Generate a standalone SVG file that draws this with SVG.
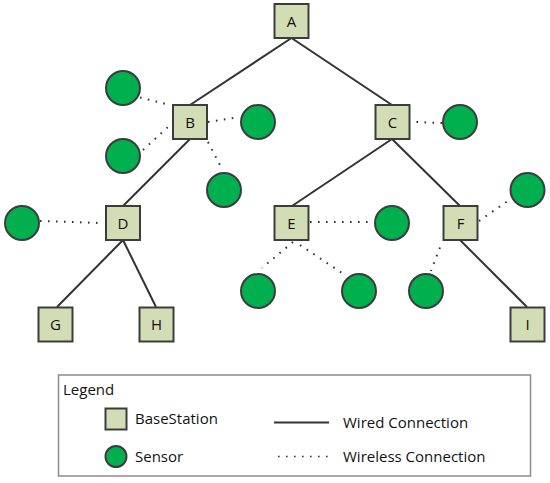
<svg xmlns="http://www.w3.org/2000/svg" width="550" height="483" viewBox="0 0 550 483">
<style>
.bs{fill:#d3ddb5;stroke:#3c3c3c;stroke-width:2}
.sn{fill:#00b04f;stroke:#3c3c3c;stroke-width:2}
.w{stroke:#333;stroke-width:2;fill:none}
.d{stroke:#333;stroke-width:2;fill:none;stroke-dasharray:1.6 6.4}
.t{font-family:"Open Sans","Liberation Sans",sans-serif;font-size:15px;fill:#111;text-anchor:middle}
.l{font-family:"Open Sans","Liberation Sans",sans-serif;font-size:15px;fill:#111}
</style>
<rect width="550" height="483" fill="#fff"/>
<g id="connectors">
<line class="w" x1="291.5" y1="38" x2="190" y2="105"/>
<line class="w" x1="291.5" y1="38" x2="392" y2="105"/>
<line class="w" x1="190" y1="139" x2="123" y2="206"/>
<line class="w" x1="392" y1="139" x2="292" y2="206"/>
<line class="w" x1="392" y1="139" x2="460" y2="206"/>
<line class="w" x1="123" y1="240" x2="57" y2="307"/>
<line class="w" x1="123" y1="240" x2="156" y2="307"/>
<line class="w" x1="460" y1="240" x2="527" y2="307"/>
<line class="d" x1="140" y1="97.5" x2="168" y2="104.5"/>
<line class="d" x1="143" y1="150" x2="169" y2="126"/>
<line class="d" x1="208" y1="122" x2="234" y2="118"/>
<line class="d" x1="208" y1="142" x2="221" y2="167"/>
<line class="d" x1="40" y1="221" x2="100" y2="223"/>
<line class="d" x1="416.5" y1="122" x2="442" y2="123"/>
<line class="d" x1="310" y1="222" x2="371" y2="222"/>
<line class="d" x1="479" y1="221" x2="507" y2="201.5"/>
<line class="d" x1="293" y1="242" x2="262" y2="268"/>
<line class="d" x1="300" y1="245" x2="342" y2="273"/>
<line class="d" x1="440" y1="247.5" x2="431" y2="271"/>
</g>
<g id="A"><rect class="bs" x="274.5" y="4" width="34" height="34"/><text class="t" x="291.5" y="26.5">A</text></g>
<g id="B"><rect class="bs" x="173" y="105" width="34" height="34"/><text class="t" x="190" y="127.5">B</text></g>
<g id="C"><rect class="bs" x="375.5" y="105" width="34" height="34"/><text class="t" x="392.5" y="127.5">C</text></g>
<g id="D"><rect class="bs" x="106" y="206" width="34" height="34"/><text class="t" x="123" y="228.5">D</text></g>
<g id="E"><rect class="bs" x="274.5" y="206" width="34" height="34"/><text class="t" x="291.5" y="228.5">E</text></g>
<g id="F"><rect class="bs" x="443.5" y="206" width="34" height="34"/><text class="t" x="460.5" y="228.5">F</text></g>
<g id="G"><rect class="bs" x="38.5" y="307.5" width="34" height="34"/><text class="t" x="55.5" y="330">G</text></g>
<g id="H"><rect class="bs" x="139.5" y="307.5" width="34" height="34"/><text class="t" x="156.5" y="330">H</text></g>
<g id="I"><rect class="bs" x="510.5" y="307.5" width="34" height="34"/><text class="t" x="527.5" y="330">I</text></g>
<g id="sensors">
<circle class="sn" cx="123" cy="88" r="17"/>
<circle class="sn" cx="123" cy="156" r="17"/>
<circle class="sn" cx="258" cy="122" r="17"/>
<circle class="sn" cx="224" cy="190" r="17"/>
<circle class="sn" cx="22" cy="223" r="17"/>
<circle class="sn" cx="460" cy="122" r="17"/>
<circle class="sn" cx="527.5" cy="190" r="17"/>
<circle class="sn" cx="392" cy="223" r="17"/>
<circle class="sn" cx="258" cy="291" r="17"/>
<circle class="sn" cx="359" cy="291" r="17"/>
<circle class="sn" cx="426" cy="291" r="17"/>
</g>
<g id="legend">
<rect x="58.5" y="375" width="472" height="101" fill="#fff" stroke="#8c8c8c" stroke-width="1.5"/>
<text class="l" x="63" y="395">Legend</text>
<rect class="bs" x="105.5" y="408.5" width="21" height="21"/>
<text class="l" x="135" y="424">BaseStation</text>
<circle class="sn" cx="116" cy="456.5" r="10.5"/>
<text class="l" x="135" y="461.5">Sensor</text>
<line class="w" x1="274" y1="422.5" x2="329" y2="422.5"/>
<text class="l" x="343" y="427.5">Wired Connection</text>
<line class="d" x1="278" y1="456.5" x2="330" y2="456.5" style="stroke-width:1.5"/>
<text class="l" x="343" y="461.5">Wireless Connection</text>
</g>
</svg>
